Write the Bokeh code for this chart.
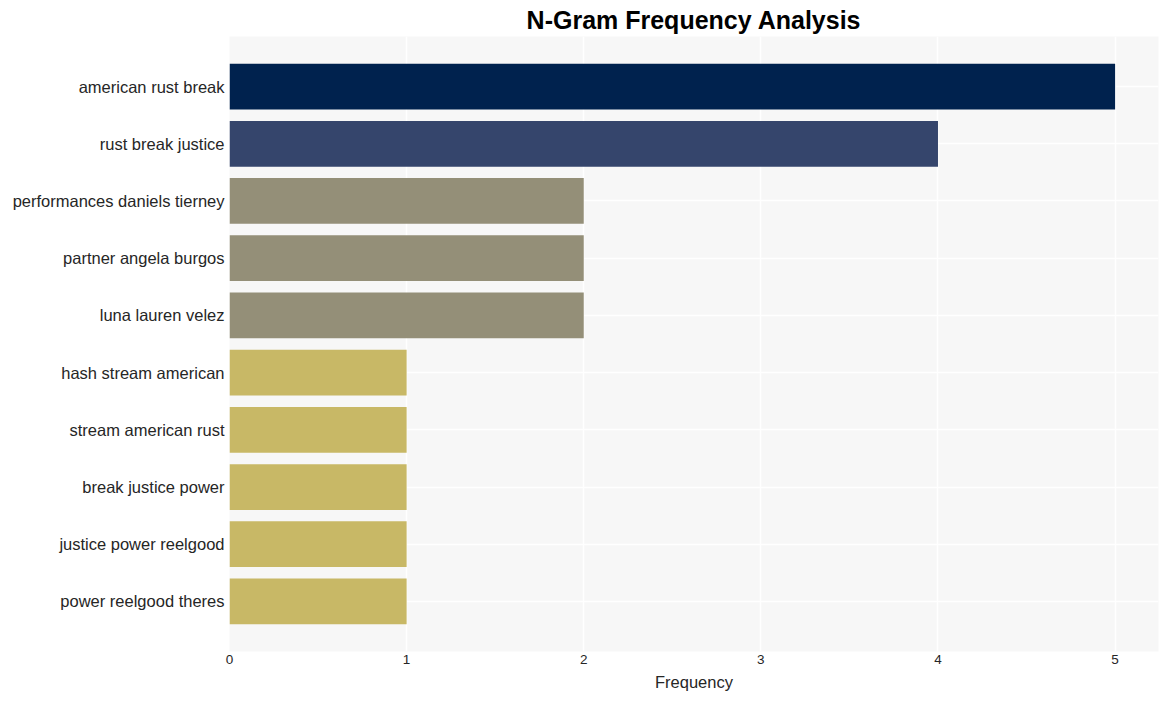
from bokeh.plotting import figure
from bokeh.models import FactorRange, Range1d, ColumnDataSource
from bokeh.embed import file_html
from bokeh.resources import INLINE

ngrams = ["american rust break", "rust break justice", "performances daniels tierney",
          "partner angela burgos", "luna lauren velez", "hash stream american",
          "stream american rust", "break justice power", "justice power reelgood",
          "power reelgood theres"]
counts = [5, 4, 2, 2, 2, 1, 1, 1, 1, 1]
colors = ["#00224e", "#35456c", "#948f78", "#948f78", "#948f78",
          "#c8b866", "#c8b866", "#c8b866", "#c8b866", "#c8b866"]

factors = list(reversed(ngrams))
src = ColumnDataSource(dict(y=ngrams, x=counts, c=colors))

p = figure(width=1160, height=693, output_backend="svg", toolbar_location=None,
           y_range=FactorRange(*factors, range_padding=0.075),
           x_range=Range1d(0, 5.245),
           min_border_left=229, min_border_right=2, min_border_top=0, min_border_bottom=0)

p.hbar(y="y", right="x", left=0, height=0.8, color="c", source=src, line_color=None)

p.title.text = "N-Gram Frequency Analysis"
p.title.align = "center"
p.title.text_font = "Liberation Sans"
p.title.text_font_size = "25px"
p.title.text_font_style = "bold"
p.title.text_color = "#000000"
p.title.standoff = 6

p.background_fill_color = "#f7f7f7"
p.border_fill_color = "white"
p.outline_line_color = None

p.xgrid.grid_line_color = "white"
p.xgrid.grid_line_width = 1.5
p.ygrid.grid_line_color = "white"
p.ygrid.grid_line_width = 1.5

for ax in (p.xaxis, p.yaxis):
    ax.axis_line_color = None
    ax.major_tick_line_color = None
    ax.minor_tick_line_color = None
    ax.major_tick_out = 0
    ax.major_tick_in = 0
    ax.minor_tick_out = 0

p.xaxis.ticker = [0, 1, 2, 3, 4, 5]
p.xaxis.major_label_text_font = "Liberation Sans"
p.xaxis.major_label_text_font_size = "13.5px"
p.xaxis.major_label_text_color = "#262626"
p.xaxis.major_label_standoff = 3
p.xaxis.axis_label = "Frequency"
p.xaxis.axis_label_text_font = "Liberation Sans"
p.xaxis.axis_label_text_font_size = "16.5px"
p.xaxis.axis_label_text_font_style = "normal"
p.xaxis.axis_label_text_color = "#262626"
p.xaxis.axis_label_standoff = 6

p.yaxis.major_label_text_font = "Liberation Sans"
p.yaxis.major_label_text_font_size = "16.5px"
p.yaxis.major_label_text_color = "#262626"
p.yaxis.major_label_standoff = 5

open("out.html", "w").write(file_html(p, INLINE))
